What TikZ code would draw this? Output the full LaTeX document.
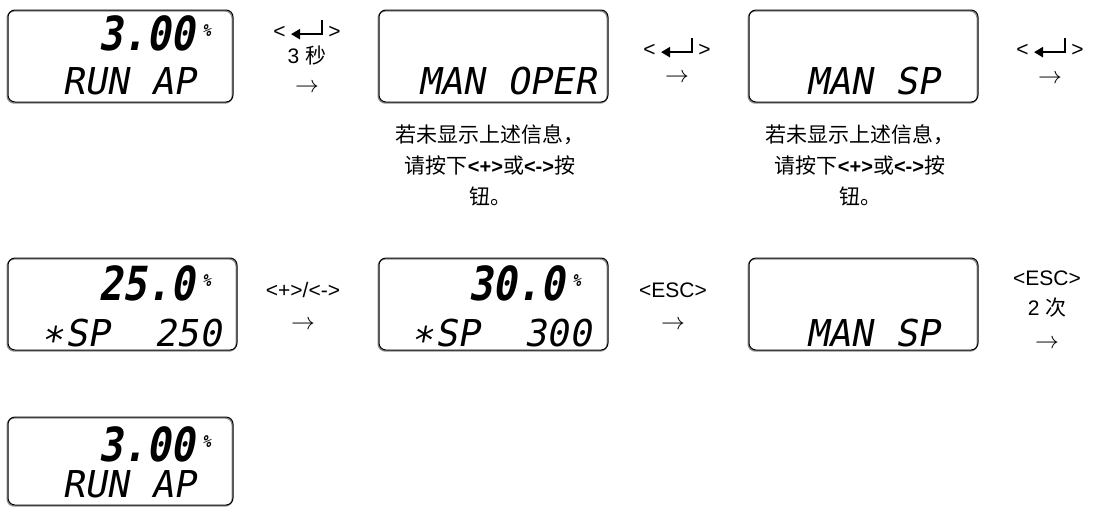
\documentclass[tikz,border=0pt]{standalone}
\usepackage{fontspec}
\setmainfont{Liberation Sans}
\newfontfamily\cjk{Noto Sans CJK SC}
\newfontfamily\lcdfont[FakeSlant=0.18]{DejaVu Sans Mono}
\newfontfamily\lcdbigfont[FakeSlant=0.18,FakeStretch=0.85]{DejaVu Sans Mono}
\usepackage{tikz}
\usetikzlibrary{arrows.meta}
\tikzset{
	display/.style={
		draw,
		rounded corners=7pt,
		line width=1pt,
		inner sep=0pt,
		minimum height=92pt,
		preaction={draw=black!45, line width=1.4pt,
			transform canvas={shift={(-0.8pt,-1pt)}}}
	},
	readout/.style={
		font=\lcdbigfont\bfseries\fontsize{47}{47}\selectfont,
		inner sep=0pt,
		anchor=base east
	},
	pct/.style={
		font=\lcdbigfont\bfseries\fontsize{17}{17}\selectfont,
		inner sep=0pt,
		anchor=base west
	},
	subline/.style={
		font=\lcdfont\fontsize{37}{37}\selectfont,
		inner sep=0pt,
		anchor=base west
	},
	keylabel/.style={
		font=\fontsize{21}{21}\selectfont,
		inner sep=0pt
	},
	hint/.style={
		font=\cjk\fontsize{21}{31}\selectfont,
		align=center,
		inner sep=0pt
	}
}
\newcommand{\EnterKey}{\tikz[baseline=-4pt]\draw[line width=2.6pt,-{Triangle[length=9pt,width=10pt]}] (31pt,14pt) -- (31pt,0pt) -- (0pt,0pt);}
\newcommand{\EnterLbl}{<\hspace{4pt}\EnterKey\hspace{5pt}>}
\newcommand{\Arrow}{\scalebox{1.15}{$\rightarrow$}}
\newcommand{\Star}{\smash{\raisebox{-7pt}{*}}\kern3pt}
\newcommand{\KeyTxt}[1]{{\rmfamily\bfseries\fontsize{20}{20}\selectfont #1}}

\begin{document}
\begin{tikzpicture}[x=1pt, y=-1pt]
	\useasboundingbox (0,0) rectangle (1094,512);
	% first row
	\node[display, minimum width=225pt] (d1) at (120.5,56) {};
	\node[readout] (r1) at (195,50) {3.00};
	\node[pct] (p1) at (202,36) {\%};
	\node[subline] (s1) at (62,94) {RUN AP};
	\node[keylabel] (k1) at (307,29) {\EnterLbl};
	\node[keylabel] (t1) at (307,55) {3 {\cjk 秒}};
	\node[keylabel] (a1) at (307,88) {\Arrow};
	\node[display, minimum width=229pt] (d2) at (493.5,56) {};
	\node[subline] (s2) at (418,94) {MAN OPER};
	\node[keylabel] (k2) at (677,47) {\EnterLbl};
	\node[keylabel] (a2) at (677,78) {\Arrow};
	\node[display, minimum width=229pt] (d3) at (863.5,56) {};
	\node[subline] (s3) at (806,94) {MAN SP};
	\node[keylabel] (k3) at (1050,47) {\EnterLbl};
	\node[keylabel] (a3) at (1050,79) {\Arrow};
	\node[hint] (h2) at (490,165) {若未显示上述信息，\\请按下\KeyTxt{<+>}或\KeyTxt{<->}按\\钮。};
	\node[hint] (h3) at (860,165) {若未显示上述信息，\\请按下\KeyTxt{<+>}或\KeyTxt{<->}按\\钮。};
	% second row
	\node[display, minimum width=229pt] (d4) at (122.5,304) {};
	\node[readout] (r4) at (195,300) {25.0};
	\node[pct] (p4) at (202,286) {\%};
	\node[subline] (s4) at (40,346) {\Star SP\ \ 250};
	\node[keylabel] (k4) at (303,290) {<+>/<->};
	\node[keylabel] (a4) at (303,325) {\Arrow};
	\node[display, minimum width=229pt] (d5) at (493.5,304) {};
	\node[readout] (r5) at (565,300) {30.0};
	\node[pct] (p5) at (572,286) {\%};
	\node[subline] (s5) at (410,346) {\Star SP\ \ 300};
	\node[keylabel] (k5) at (673,290) {<ESC>};
	\node[keylabel] (a5) at (673,325) {\Arrow};
	\node[display, minimum width=229pt] (d6) at (863.5,304) {};
	\node[subline] (s6) at (806,346) {MAN SP};
	\node[keylabel] (k6) at (1047,278) {<ESC>};
	\node[keylabel] (t6) at (1047,308) {2 {\cjk 次}};
	\node[keylabel] (a6) at (1047,344) {\Arrow};
	% third row
	\node[display, minimum width=225pt, minimum height=88pt] (d7) at (120.5,461) {};
	\node[readout] (r7) at (195,461) {3.00};
	\node[pct] (p7) at (202,447) {\%};
	\node[subline] (s7) at (62,497) {RUN AP};
\end{tikzpicture}
\end{document}
